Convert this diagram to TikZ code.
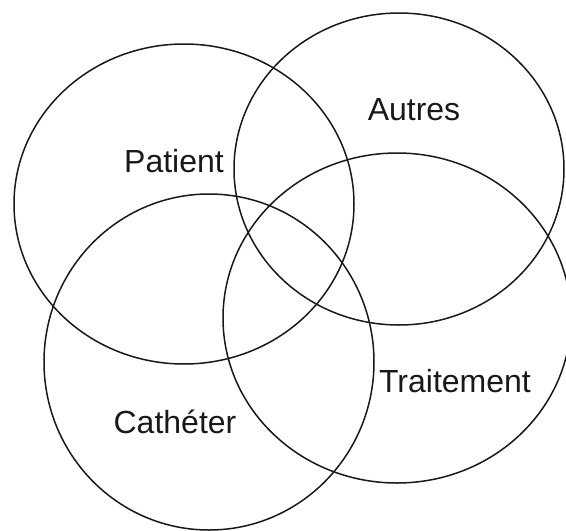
\documentclass[tikz,border=0pt]{standalone}
\usepackage{fontspec}
\setmainfont{Liberation Sans}
\begin{document}
\begin{tikzpicture}[x=1pt,y=-1pt,
  setring/.style={draw=black!90, line width=1.5pt},
  setlabel/.style={font=\fontsize{32}{38}\selectfont, inner sep=0pt, text=black!90}]
\useasboundingbox (0,0) rectangle (566,531);
\begin{scope}
\clip (0,0) rectangle (566,531);
\draw[setring] (184,204) ellipse [x radius=170, y radius=160];
\draw[setring] (399,169) ellipse [x radius=165, y radius=156];
\draw[setring] (209,362) ellipse [x radius=165, y radius=168];
\draw[setring] (397,318) ellipse [x radius=174, y radius=165];
\end{scope}
\node[setlabel] (patient) at (174,161) {Patient};
\node[setlabel] (autres) at (414,110) {Autres};
\node[setlabel] (catheter) at (175,422) {Cathéter};
\node[setlabel] (traitement) at (455,381) {Traitement};
\end{tikzpicture}
\end{document}
